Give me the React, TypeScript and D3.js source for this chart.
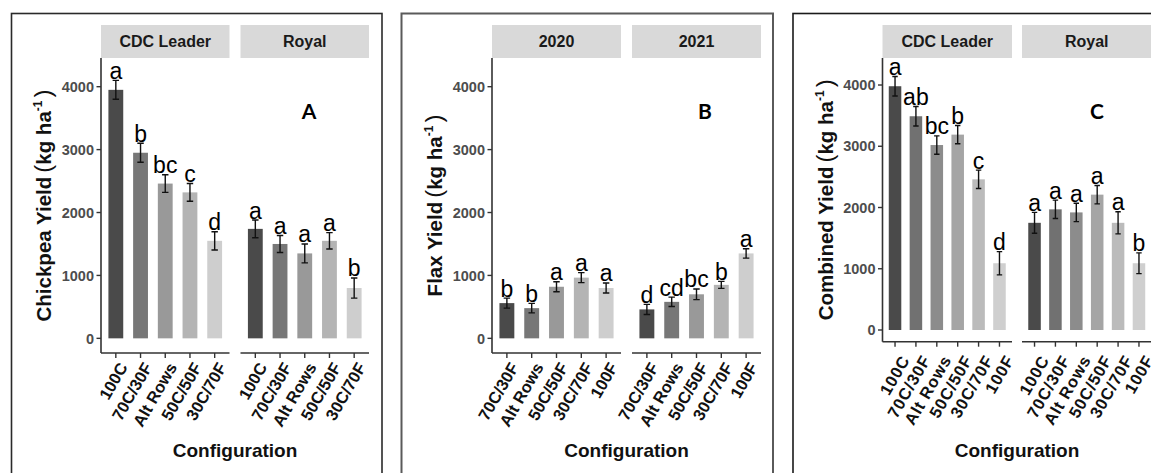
import React from "react";
import * as d3 from "d3";

// ---- data ----
const chickpeaConfigs = ["100C", "70C/30F", "Alt Rows", "50C/50F", "30C/70F"];
const flaxConfigs = ["70C/30F", "Alt Rows", "50C/50F", "30C/70F", "100F"];
const combinedConfigs = ["100C", "70C/30F", "Alt Rows", "50C/50F", "30C/70F", "100F"];

const cultivars = ["CDC Leader", "Royal"];
const years = ["2020", "2021"];

const chickpeaCdcLeader = [3950, 2950, 2460, 2320, 1550];
const chickpeaCdcLeaderSe = [150, 150, 140, 140, 145];
const chickpeaCdcLeaderLetters = ["a", "b", "bc", "c", "d"];
const chickpeaRoyal = [1740, 1500, 1350, 1550, 800];
const chickpeaRoyalSe = [140, 135, 150, 130, 160];
const chickpeaRoyalLetters = ["a", "a", "a", "a", "b"];

const flax2020 = [560, 480, 820, 965, 800];
const flax2020Se = [80, 75, 80, 80, 80];
const flax2020Letters = ["b", "b", "a", "a", "a"];
const flax2021 = [460, 580, 700, 850, 1350];
const flax2021Se = [80, 75, 85, 55, 75];
const flax2021Letters = ["d", "cd", "bc", "b", "a"];

const combinedCdcLeader = [3980, 3490, 3020, 3190, 2460, 1090];
const combinedCdcLeaderSe = [160, 160, 150, 150, 150, 190];
const combinedCdcLeaderLetters = ["a", "ab", "bc", "b", "c", "d"];
const combinedRoyal = [1750, 1970, 1920, 2210, 1750, 1090];
const combinedRoyalSe = [170, 150, 150, 150, 180, 170];
const combinedRoyalLetters = ["a", "a", "a", "a", "a", "b"];

const yTicks = [0, 1000, 2000, 3000, 4000];

const greys5 = ["#4a4a4a", "#777777", "#999999", "#b4b4b4", "#cecece"];
const greys6 = ["#4a4a4a", "#717171", "#8c8c8c", "#a5a5a5", "#bbbbbb", "#cfcfcf"];

const SANS = "'Liberation Sans', Arial, sans-serif";

type Facet = { name: string; values: number[]; se: number[]; letters: string[] };

type PanelCfg = {
  frame: { x: number; w: number; stroke: string; sw: number };
  plotLeft: number;
  facetW: number;
  gap: number;
  plotTop: number;
  axisY: number;
  yDomain: [number, number];
  configs: string[];
  colors: string[];
  facets: Facet[];
  yLabel: string;
  tag: string;
  tagX: number;
  labelDx: number;
  labelDy: number;
  labelSpacing: number;
};

const panels: PanelCfg[] = [
  {
    frame: { x: 11.5, w: 370.5, stroke: "#2a2a2a", sw: 1.6 },
    plotLeft: 101,
    facetW: 128.5,
    gap: 11,
    plotTop: 58,
    axisY: 353,
    yDomain: [-233, 4456],
    configs: chickpeaConfigs,
    colors: greys5,
    facets: [
      { name: cultivars[0], values: chickpeaCdcLeader, se: chickpeaCdcLeaderSe, letters: chickpeaCdcLeaderLetters },
      { name: cultivars[1], values: chickpeaRoyal, se: chickpeaRoyalSe, letters: chickpeaRoyalLetters },
    ],
    yLabel: "Chickpea Yield",
    tag: "A",
    tagX: 309,
    labelDx: 2,
    labelDy: 8,
    labelSpacing: 0,
  },
  {
    frame: { x: 401.5, w: 371.5, stroke: "#5a5a5a", sw: 2 },
    plotLeft: 492,
    facetW: 129,
    gap: 11,
    plotTop: 58,
    axisY: 353,
    yDomain: [-233, 4456],
    configs: flaxConfigs,
    colors: greys5,
    facets: [
      { name: years[0], values: flax2020, se: flax2020Se, letters: flax2020Letters },
      { name: years[1], values: flax2021, se: flax2021Se, letters: flax2021Letters },
    ],
    yLabel: "Flax Yield",
    tag: "B",
    tagX: 705,
    labelDx: 2,
    labelDy: 8,
    labelSpacing: 0,
  },
  {
    frame: { x: 793, w: 400, stroke: "#1a1a1a", sw: 1.6 },
    plotLeft: 882.5,
    facetW: 129.5,
    gap: 10,
    plotTop: 58,
    axisY: 341.7,
    yDomain: [-191, 4441],
    configs: combinedConfigs,
    colors: greys6,
    facets: [
      { name: cultivars[0], values: combinedCdcLeader, se: combinedCdcLeaderSe, letters: combinedCdcLeaderLetters },
      { name: cultivars[1], values: combinedRoyal, se: combinedRoyalSe, letters: combinedRoyalLetters },
    ],
    yLabel: "Combined Yield",
    tag: "C",
    tagX: 1097,
    labelDx: 5,
    labelDy: 12,
    labelSpacing: 0.8,
  },
];

function Panel({ cfg }: { cfg: PanelCfg }) {
  const y = d3.scaleLinear().domain(cfg.yDomain).range([cfg.axisY, cfg.plotTop]);
  const plotRight = cfg.plotLeft + cfg.facets.length * cfg.facetW + (cfg.facets.length - 1) * cfg.gap;
  const midY = (cfg.plotTop + cfg.axisY) / 2;

  return (
    <g>
      <rect
        x={cfg.frame.x}
        y={13.5}
        width={cfg.frame.w}
        height={480}
        fill="#fff"
        stroke={cfg.frame.stroke}
        strokeWidth={cfg.frame.sw}
      />
      {cfg.facets.map((f, fi) => {
        const left = cfg.plotLeft + fi * (cfg.facetW + cfg.gap);
        const x = d3
          .scaleBand<string>()
          .domain(cfg.configs)
          .range([left, left + cfg.facetW])
          .paddingInner(0.4)
          .paddingOuter(0.3);
        const bw = x.bandwidth();
        const step = x.step();
        return (
          <g key={f.name}>
            <rect x={left} y={25} width={cfg.facetW} height={33} fill="#d9d9d9" />
            <text
              x={left + cfg.facetW / 2}
              y={47}
              textAnchor="middle"
              fontFamily={SANS}
              fontWeight="bold"
              fontSize={16}
              fill="#1a1a1a"
            >
              {f.name}
            </text>
            {cfg.configs.map((c, i) => {
              const cx = (x(c) as number) + bw / 2;
              const v = f.values[i];
              const top = y(v + f.se[i]);
              const bot = y(v - f.se[i]);
              const cap = step * 0.13;
              return (
                <g key={c}>
                  <rect x={x(c)} y={y(v)} width={bw} height={y(0) - y(v)} fill={cfg.colors[i]} />
                  <path
                    d={`M${cx - cap},${top}H${cx + cap}M${cx},${top}V${bot}M${cx - cap},${bot}H${cx + cap}`}
                    stroke="#111"
                    strokeWidth={1.4}
                    fill="none"
                  />
                  <text
                    x={cx}
                    y={top - 1.5}
                    textAnchor="middle"
                    fontFamily={SANS}
                    fontSize={23}
                    fill="#000"
                  >
                    {f.letters[i]}
                  </text>
                  <line x1={cx} x2={cx} y1={cfg.axisY} y2={cfg.axisY + 5} stroke="#333" strokeWidth={1.4} />
                  <text
                    transform={`translate(${cx + cfg.labelDx},${cfg.axisY + cfg.labelDy}) rotate(-60)`}
                    textAnchor="end"
                    dy="0.72em"
                    fontFamily={SANS}
                    fontWeight="bold"
                    fontSize={16.5}
                    letterSpacing={cfg.labelSpacing}
                    fill="#111"
                  >
                    {c}
                  </text>
                </g>
              );
            })}
            <line x1={left} x2={left + cfg.facetW} y1={cfg.axisY} y2={cfg.axisY} stroke="#333" strokeWidth={1.6} />
          </g>
        );
      })}
      {/* y axis */}
      <line x1={cfg.plotLeft} x2={cfg.plotLeft} y1={cfg.plotTop} y2={cfg.axisY} stroke="#333" strokeWidth={1.6} />
      {yTicks.map((t) => (
        <g key={t}>
          <line x1={cfg.plotLeft - 4.5} x2={cfg.plotLeft} y1={y(t)} y2={y(t)} stroke="#333" strokeWidth={1.4} />
          <text
            x={cfg.plotLeft - 7}
            y={y(t)}
            dy="0.36em"
            textAnchor="end"
            fontFamily={SANS}
            fontWeight="bold"
            fontSize={14.5}
            fill="#4d4d4d"
          >
            {t}
          </text>
        </g>
      ))}
      {/* y title */}
      <text
        transform={`translate(${cfg.plotLeft - 50},${midY}) rotate(-90)`}
        textAnchor="middle"
        fontFamily={SANS}
        fontSize={20.5}
        fontWeight="bold"
        fill="#111"
      >
        {cfg.yLabel}
        <tspan fontWeight="normal" fontSize={24} dx={4}>(</tspan>
        <tspan>kg ha</tspan>
        <tspan fontSize={12} dy={-9}>-1</tspan>
        <tspan fontWeight="normal" fontSize={24} dy={9} dx={3}>)</tspan>
      </text>
      {/* x title */}
      <text
        x={(cfg.plotLeft + plotRight) / 2}
        y={457}
        textAnchor="middle"
        fontFamily={SANS}
        fontWeight="bold"
        fontSize={19}
        fill="#111"
      >
        Configuration
      </text>
      {/* panel tag */}
      <text
        x={cfg.tagX}
        y={119}
        textAnchor="middle"
        fontFamily="Lato, 'Open Sans', sans-serif"
        fontWeight="bold"
        fontSize={21}
        fill="#000"
      >
        {cfg.tag}
      </text>
    </g>
  );
}

export default function App() {
  return (
    <div style={{ position: "fixed", left: 0, top: 0, width: 1151, height: 473, overflow: "hidden" }}>
      <svg width={1151} height={473} style={{ display: "block", background: "#fff" }}>
        {panels.map((p) => (
          <Panel key={p.tag} cfg={p} />
        ))}
      </svg>
    </div>
  );
}
